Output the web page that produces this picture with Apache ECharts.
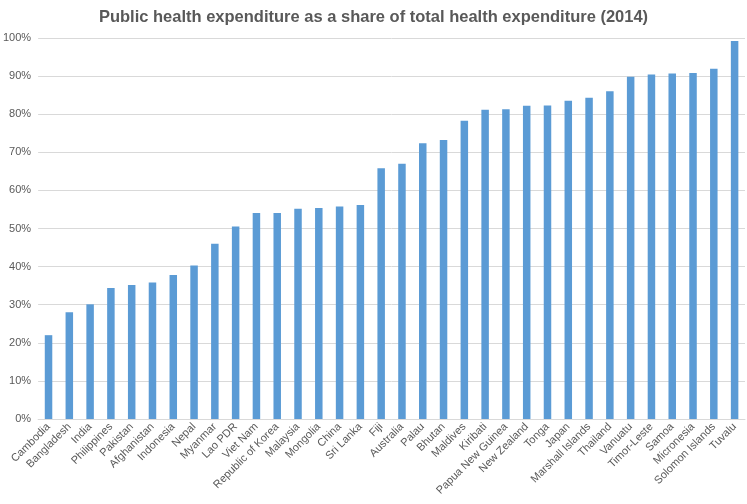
<!DOCTYPE html>
<html>
<head>
<meta charset="utf-8">
<script src="https://cdn.jsdelivr.net/npm/echarts@6/dist/echarts.min.js"></script>
<style>
html,body{margin:0;padding:0;background:#fff;}
#chart{width:747px;height:504px;}
</style>
</head>
<body>
<div id="chart"></div>
<script>
const categories = ["Cambodia","Bangladesh","India","Philippines","Pakistan","Afghanistan","Indonesia","Nepal","Myanmar","Lao PDR","Viet Nam","Republic of Korea","Malaysia","Mongolia","China","Sri Lanka","Fiji","Australia","Palau","Bhutan","Maldives","Kiribati","Papua New Guinea","New Zealand","Tonga","Japan","Marshall Islands","Thailand","Vanuatu","Timor-Leste","Samoa","Micronesia","Solomon Islands","Tuvalu"];
const values = [22.0,28.0,30.1,34.4,35.2,35.8,37.8,40.3,46.0,50.5,54.1,54.1,55.2,55.4,55.8,56.2,65.8,67.0,72.4,73.2,78.3,81.2,81.3,82.2,82.3,83.5,84.3,86.0,89.8,90.4,90.7,90.8,91.9,99.2];
const titleText = "Public health expenditure as a share of total health expenditure (2014)";

const chart = echarts.init(document.getElementById('chart'), null, {renderer:'canvas'});
chart.setOption({
  animation:false,
  textStyle:{fontFamily:'Liberation Sans, Arial, sans-serif'},
  title:{
    text:titleText, left:'center', top:4,
    textStyle:{fontSize:16.5, fontWeight:'bold', color:'#595959', fontFamily:'Liberation Sans, Arial, sans-serif'}
  },
  grid:{left:35, right:2, top:38, bottom:85, containLabel:false},
  xAxis:{
    type:'category', data:categories,
    axisLine:{lineStyle:{color:'#D9D9D9'}},
    axisTick:{show:false},
    axisLabel:{rotate:45, interval:0, color:'#595959', fontSize:11, margin:6}
  },
  yAxis:{
    type:'value', min:0, max:100, interval:10,
    axisLine:{show:false}, axisTick:{show:false},
    splitLine:{lineStyle:{color:'#D9D9D9'}},
    axisLabel:{formatter:'{value}%', color:'#595959', fontSize:11, margin:7}
  },
  series:[{type:'bar', data:values, barWidth:7.5, itemStyle:{color:'#5B9BD5'}}]
});
</script>
</body>
</html>
